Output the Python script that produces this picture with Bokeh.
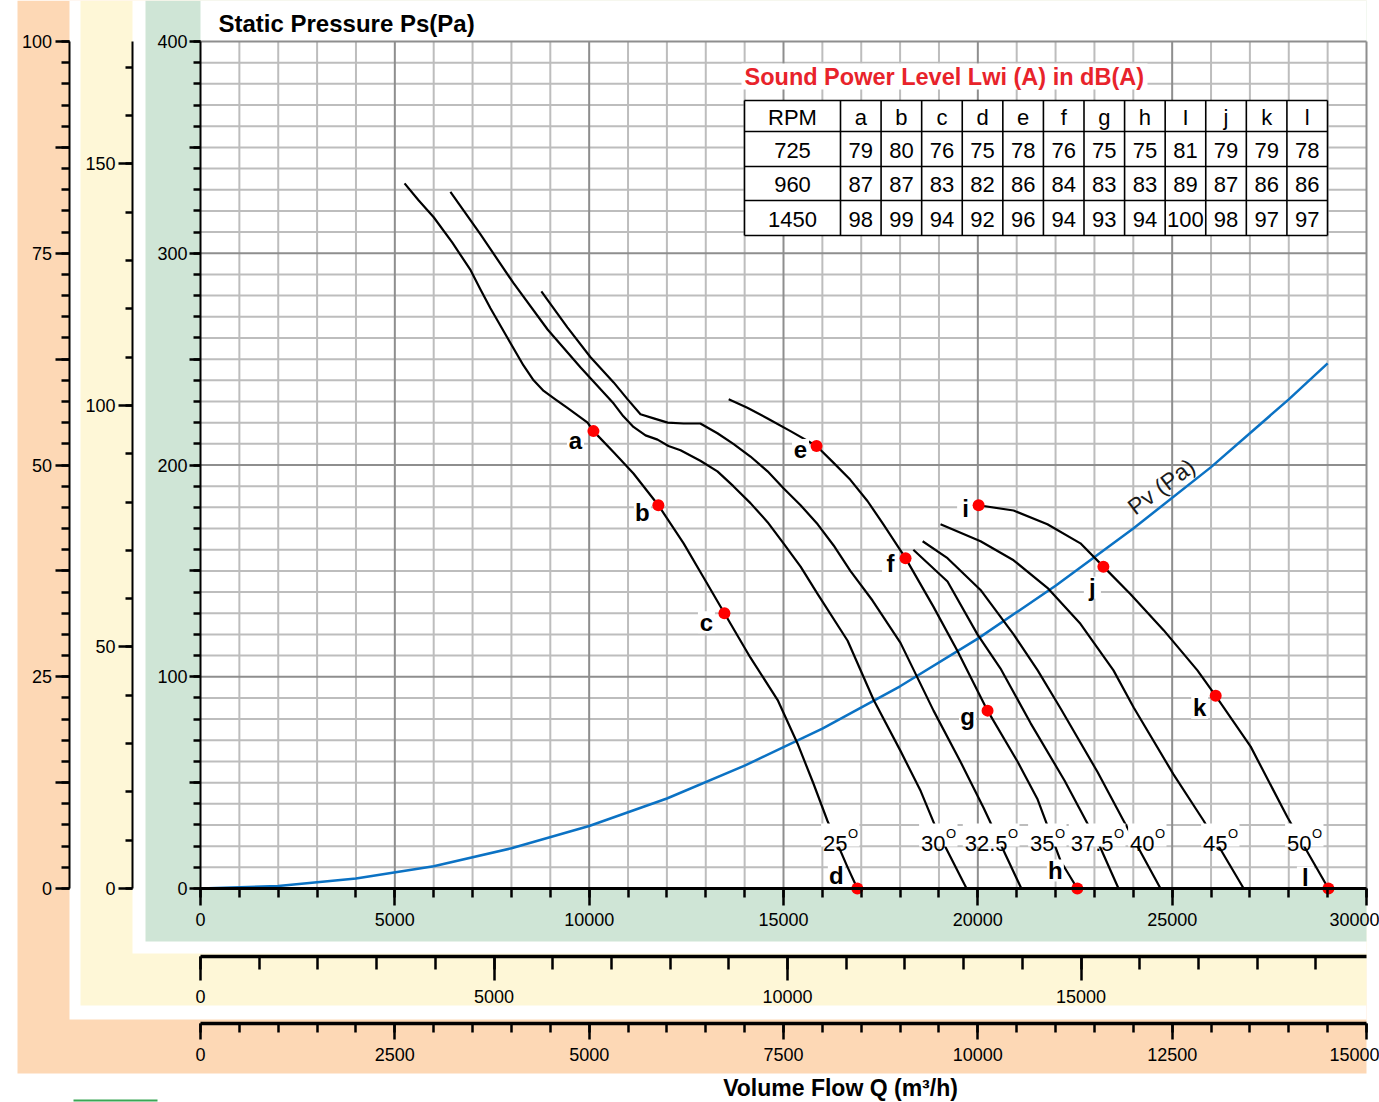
from bokeh.plotting import figure
from bokeh.models import Range1d, LinearAxis, FixedTicker, CustomJSTickFormatter
from bokeh.core.properties import value
from bokeh.embed import file_html
from bokeh.resources import INLINE

# ---------------- data ----------------
BLADE_ANGLES = ["25", "30", "32.5", "35", "37.5", "40", "45", "50"]

Q_25 = [5250, 5610, 6000, 6480, 6950, 7200, 7460, 7900, 8310, 8570, 8830, 9130, 9440, 9960,
        10110, 10630, 11140, 11780, 12430, 12940, 13480, 14150, 14850, 15360, 15770, 16130,
        16650, 16900]
P_25 = [333, 325, 317, 305, 292, 283, 274, 260, 247, 240, 235, 231, 227, 220,
        216, 206, 196, 181, 163, 147, 130, 109, 89, 68.5, 49.6, 32,
        10, 0]
Q_30 = [6430, 7200, 8050, 8930, 9780, 10630, 10880, 11140, 11450, 11760, 12040, 12350, 12860,
        13300, 13710, 14150, 14590, 15000, 15440, 15880, 16650, 17320, 18010, 18530, 18960, 19710]
P_30 = [329, 309, 286, 264, 246, 229, 223, 218, 214, 212, 209, 207, 202,
        197, 190, 182, 173, 163, 152, 139, 117, 89, 65, 46, 27, 0]
Q_325 = [8770, 9440, 10030, 10630, 10990, 11320, 11660, 12020, 12430, 12860, 13300, 13710,
         14150, 14590, 15000, 15440, 15880, 16290, 16720, 17290, 18010, 18860, 19550, 20150, 21120]
P_325 = [282, 265, 251, 239, 231, 224, 222, 220, 219.6, 219.6, 215, 210,
         204, 197, 189, 181, 172, 162, 150, 136, 116, 84, 60, 38, 0]
Q_35 = [13590, 14070, 14590, 15180, 15850, 16290, 16720, 17160, 17570, 18140, 18860, 19480,
        20250, 21020, 21540, 22130, 22560]
P_35 = [231, 227, 222, 216, 209, 201, 193, 183, 172, 156, 133, 112,
        84, 60, 42, 13, 0]
Q_375 = [18340, 19220, 19990, 20580, 21360, 22230, 23160, 23620]
P_375 = [160, 145, 120, 104, 78, 51, 19, 0]
Q_40 = [18580, 19220, 20070, 20920, 21540, 22130, 23080, 23750, 24700]
P_40 = [164, 156, 141, 120, 103, 85, 55, 32, 0]
Q_45 = [19040, 20070, 20920, 21790, 22640, 23490, 24010, 25030, 25810, 26840]
P_45 = [172, 164, 155, 142, 125, 103, 85.5, 54, 32, 0]
Q_50 = [20020, 20920, 21790, 22640, 23230, 23930, 24780, 25650, 26120, 27020, 27970, 29020]
P_50 = [181, 178.5, 172, 163, 152, 139, 122, 103, 91, 67, 33.5, 0]

CURVES_Q = [Q_25, Q_30, Q_325, Q_35, Q_375, Q_40, Q_45, Q_50]
CURVES_P = [P_25, P_30, P_325, P_35, P_375, P_40, P_45, P_50]

POINT_NAMES = ["a", "b", "c", "d", "e", "f", "g", "h", "i", "j", "k", "l"]
POINT_Q = [10110, 11780, 13480, 16900, 15850, 18140, 20250, 22560, 20020, 23230, 26120, 29020]
POINT_P = [216, 181, 130, 0, 209, 156, 84, 0, 181, 152, 91, 0]

PV_Q = [0, 2000, 4000, 6000, 8000, 10000, 12000, 14000, 16000, 18000, 20000, 22000,
        24000, 26000, 28000, 29000]
PV_P = [0, 1.2, 4.7, 10.5, 19, 29.5, 42.5, 58, 75.5, 95.5, 118, 143, 170, 199, 231, 248]

RPM_MAIN, RPM_MID, RPM_LOW = 1450, 960, 725

TABLE_COLS = ["a", "b", "c", "d", "e", "f", "g", "h", "I", "j", "k", "l"]
TABLE_RPMS = ["725", "960", "1450"]
LW_725 = [79, 80, 76, 75, 78, 76, 75, 75, 81, 79, 79, 78]
LW_960 = [87, 87, 83, 82, 86, 84, 83, 83, 89, 87, 86, 86]
LW_1450 = [98, 99, 94, 92, 96, 94, 93, 94, 100, 98, 97, 97]

# ---------------- layout (pixels) ----------------
W, H = 1379, 1102
FX0, FX1, FY0, FY1 = 200, 1366, 888, 41
QMAX, PMAX = 30000, 400
KX = QMAX / (FX1 - FX0)
KY = PMAX / (FY0 - FY1)


def dx(px):
    return (px - FX0) * KX


def dy(py):
    return (FY0 - py) * KY


ORANGE, YELLOW, GREEN = "#fdd8b5", "#fef7d7", "#cfe5d6"
FONT = "Liberation Sans"
TICK_SIZE = "18px"

p = figure(width=W, height=H, x_range=Range1d(dx(0), dx(W)), y_range=Range1d(dy(H), dy(0)),
           x_axis_type=None, y_axis_type=None, toolbar_location=None, output_backend="svg",
           min_border=0, outline_line_color=None,
           background_fill_color="white", border_fill_color="white")
p.min_border_left = p.min_border_right = p.min_border_top = p.min_border_bottom = 0

f_mid = (RPM_MID / RPM_MAIN)
f_low = (RPM_LOW / RPM_MAIN)
p.extra_y_ranges = {
    "y_mid": Range1d(dy(H) * f_mid ** 2, dy(0) * f_mid ** 2),
    "y_low": Range1d(dy(H) * f_low ** 2, dy(0) * f_low ** 2),
}
p.extra_x_ranges = {
    "x_mid": Range1d(dx(0) * f_mid, dx(W) * f_mid),
    "x_low": Range1d(dx(0) * f_low, dx(W) * f_low),
}

# background bands
BANDS = [(17, 1366, 0, 1073, ORANGE), (69, 1366, 0, 1019, "white"),
         (80, 1366, 0, 1005, YELLOW), (132, 1366, 0, 953, "white"),
         (145, 1366, 0, 941, GREEN), (200, 1366, 0, 888, "white")]
for l, r, t, b, c in BANDS:
    p.quad(left=[dx(l)], right=[dx(r)], top=[dy(t)], bottom=[dy(b)], fill_color=c, line_color=None)

# small green mark bottom-left
p.segment(x0=[dx(73)], x1=[dx(157)], y0=[dy(1100)], y1=[dy(1100)], line_color="#3aa655", line_width=2)

# grid
xs_minor = [q for q in range(1000, 30001, 1000) if q % 5000]
xs_major = list(range(5000, 30001, 5000))
ys_minor = [v for v in range(10, 401, 10) if v % 100]
ys_major = list(range(100, 401, 100))
GRID_MINOR, GRID_MAJOR = "#bdbdbd", "#8e8e8e"
p.segment(x0=xs_minor, x1=xs_minor, y0=[0] * len(xs_minor), y1=[PMAX] * len(xs_minor),
          line_color=GRID_MINOR, line_width=2)
p.segment(x0=[0] * len(ys_minor), x1=[QMAX] * len(ys_minor), y0=ys_minor, y1=ys_minor,
          line_color=GRID_MINOR, line_width=2)
p.segment(x0=xs_major, x1=xs_major, y0=[0] * len(xs_major), y1=[PMAX] * len(xs_major),
          line_color=GRID_MAJOR, line_width=2)
p.segment(x0=[0] * len(ys_major), x1=[QMAX] * len(ys_major), y0=ys_major, y1=ys_major,
          line_color=GRID_MAJOR, line_width=2)


def add_axis(side, range_name, loc, bounds, ticks, minor, every, tick_out, minor_out,
             line_w, standoff):
    fmt = CustomJSTickFormatter(args=dict(step=every), code="""
        const r = tick / step;
        return Math.abs(r - Math.round(r)) < 1e-6 ? tick.toFixed(0) : "";
    """)
    kw = dict(ticker=FixedTicker(ticks=ticks, minor_ticks=minor), formatter=fmt,
              fixed_location=loc, bounds=bounds,
              axis_line_color="black", axis_line_width=line_w,
              major_tick_in=0, major_tick_out=tick_out, minor_tick_in=0, minor_tick_out=minor_out,
              major_tick_line_width=2.5, minor_tick_line_width=2.5,
              major_tick_line_color="black", minor_tick_line_color="black",
              major_label_standoff=standoff,
              major_label_text_font=FONT, major_label_text_font_size=TICK_SIZE,
              major_label_text_color="black")
    if side == "left":
        kw["y_range_name"] = range_name
    else:
        kw["x_range_name"] = range_name
    ax = LinearAxis(**kw)
    p.add_layout(ax, side)


# vertical axes
add_axis("left", "default", 0, (0, PMAX), list(range(0, 401, 50)), list(range(0, 401, 10)),
         100, 11, 7, 2, 2)
add_axis("left", "y_mid", dx(132), (0, PMAX * f_mid ** 2), [0, 50, 100, 150],
         list(range(0, 171, 10)), 50, 14, 7, 2, 3)
add_axis("left", "y_low", dx(68.5), (0, PMAX * f_low ** 2), [i * 12.5 for i in range(9)],
         [i * 2.5 for i in range(41)], 25, 14, 8, 2, 3)
# horizontal axes
add_axis("below", "default", 0, (0, QMAX), list(range(0, 30001, 5000)),
         list(range(0, 30001, 1000)), 5000, 17, 9, 3, 7)
add_axis("below", "x_mid", dy(956), (0, QMAX * f_mid), [0, 5000, 10000, 15000],
         list(range(0, 19001, 1000)), 5000, 24, 13, 3.5, 9)
add_axis("below", "x_low", dy(1023), (0, QMAX * f_low), list(range(0, 15001, 2500)),
         list(range(0, 15001, 500)), 2500, 16, 9, 3.5, 8)

# Pv curve
p.line(PV_Q, PV_P, line_color="#0b72c4", line_width=2.5)
p.text(x=[dx(1130)], y=[dy(509)], text=["Pv (Pa)"], angle=0.64,
       text_font=value(FONT), text_font_size="23px", text_color="#1a1a1a",
       text_align="left", text_baseline="alphabetic")

# fan curves
for qs, ps in zip(CURVES_Q, CURVES_P):
    p.line(qs, ps, line_color="black", line_width=2.2, line_join="round")

# blade angle labels (white boxes behind, as in the reference)
DEG_SPLIT_PX = [847, 945, 1007, 1054, 1113, 1154, 1227, 1311]
box_x, box_w = [], []
for lab, sx in zip(BLADE_ANGLES, DEG_SPLIT_PX):
    numw = sum(6.1 if ch == "." else 12.2 for ch in lab)
    left, right = sx - numw - 2, sx + 12
    box_x.append(dx((left + right) / 2)); box_w.append(right - left)
p.rect(x=box_x, y=[dy(834.5)] * 8, width=box_w, height=[23] * 8, width_units="screen",
       height_units="screen", fill_color="white", line_color=None)
p.text(x=[dx(v) for v in DEG_SPLIT_PX], y=[dy(843)] * 8, text=BLADE_ANGLES,
       text_font=value(FONT), text_font_size="22px", text_color="black",
       text_align="right", text_baseline="alphabetic")
p.text(x=[dx(v + 0.5) for v in DEG_SPLIT_PX], y=[dy(833)] * 8, text=["O"] * 8,
       text_font=value(FONT), text_font_size="13px", text_color="black",
       text_align="left", text_baseline="alphabetic")

# operating points
LABEL_OFFSETS = [(-18, 9), (-16, 7), (-18, 9), (-21, -13), (-16, 4), (-15, 5), (-20, 6),
                 (-22, -18), (-13, 3), (-11, 21), (-16, 12), (-23, -11)]
lab_x = [q + o[0] * KX for q, o in zip(POINT_Q, LABEL_OFFSETS)]
lab_y = [v - o[1] * KY for v, o in zip(POINT_P, LABEL_OFFSETS)]
p.rect(x=lab_x, y=lab_y, width=[17] * 12, height=[22] * 12, width_units="screen",
       height_units="screen", fill_color="white", line_color=None)
p.text(x=lab_x, y=lab_y, text=POINT_NAMES,
       text_font=value(FONT), text_font_size="24px", text_font_style="bold", text_color="black",
       text_align="center", text_baseline="middle")
p.scatter(POINT_Q, POINT_P, size=12, marker="circle", fill_color="#ff0000", line_color=None)

# titles
p.text(x=[dx(218)], y=[dy(23)], text=["Static Pressure Ps(Pa)"], text_font=value(FONT),
       text_font_size="24px", text_font_style="bold", text_color="black",
       text_align="left", text_baseline="middle")
p.text(x=[dx(840)], y=[dy(1087)], text=["Volume Flow Q (m\u00b3/h)"], text_font=value(FONT),
       text_font_size="23px", text_font_style="bold", text_color="black",
       text_align="center", text_baseline="middle")

# sound power table
p.rect(x=[dx(944)], y=[dy(76)], width=[406], height=[26], width_units="screen",
       height_units="screen", fill_color="white", line_color=None)
p.text(x=[dx(744)], y=[dy(76)], text=["Sound Power Level Lwi (A) in dB(A)"], text_font=value(FONT),
       text_font_size="23.5px", text_font_style="bold", text_color="#e8232b",
       text_align="left", text_baseline="middle")
TL, TR = 744, 1327
ROW_PX = [100, 131, 166, 200, 235]
FIRST_R = 840
cw = (TR - FIRST_R) / len(TABLE_COLS)
COL_PX = [TL, FIRST_R] + [FIRST_R + cw * (k + 1) for k in range(len(TABLE_COLS))]
p.quad(left=[dx(TL)], right=[dx(TR)], top=[dy(ROW_PX[0])], bottom=[dy(ROW_PX[-1])],
       fill_color="white", line_color=None)
p.segment(x0=[dx(TL)] * len(ROW_PX), x1=[dx(TR)] * len(ROW_PX),
          y0=[dy(v) for v in ROW_PX], y1=[dy(v) for v in ROW_PX], line_color="black", line_width=1.6)
p.segment(x0=[dx(v) for v in COL_PX], x1=[dx(v) for v in COL_PX],
          y0=[dy(ROW_PX[0])] * len(COL_PX), y1=[dy(ROW_PX[-1])] * len(COL_PX),
          line_color="black", line_width=1.6)
rows = [["RPM"] + TABLE_COLS] + [[r] + [str(v) for v in vals]
                                 for r, vals in zip(TABLE_RPMS, [LW_725, LW_960, LW_1450])]
tx, ty, tt = [], [], []
for ri, row in enumerate(rows):
    cy = (ROW_PX[ri] + ROW_PX[ri + 1]) / 2 + 1
    for ci, cell in enumerate(row):
        cx = (COL_PX[ci] + COL_PX[ci + 1]) / 2
        tx.append(dx(cx)); ty.append(dy(cy)); tt.append(cell)
p.text(x=tx, y=ty, text=tt, text_font=value(FONT), text_font_size="22px", text_color="black",
       text_align="center", text_baseline="middle")

open("out.html", "w").write(file_html(p, INLINE))
